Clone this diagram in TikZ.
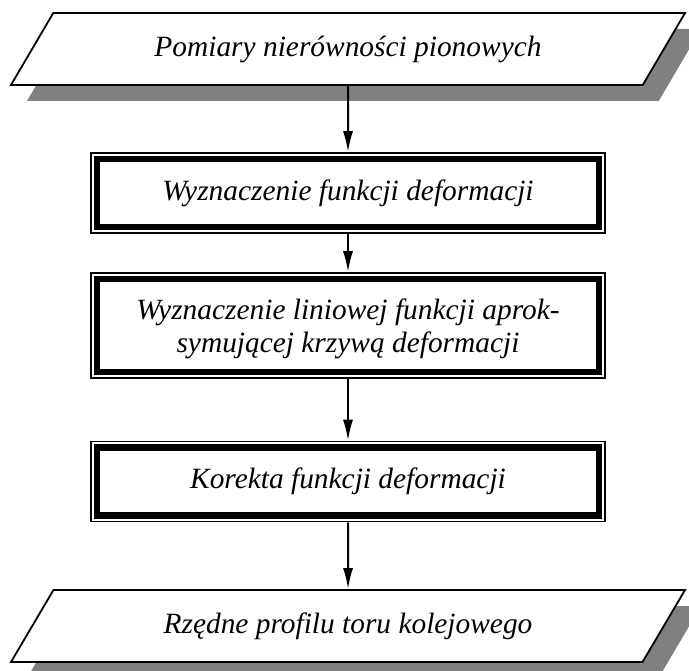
\documentclass[tikz,border=0pt]{standalone}
\usepackage{fontspec}
\setmainfont{Liberation Serif}
\usetikzlibrary{shapes.geometric,arrows.meta,shadows,positioning}

\tikzset{
  dane/.style={draw, trapezium, trapezium left angle=43.5, trapezium right angle=136.5,
    trapezium stretches body, minimum width=337pt, minimum height=36pt, line width=0.9pt,
    fill=white, drop shadow={opacity=1, fill=black!50, shadow xshift=8pt, shadow yshift=-8pt},
    font=\itshape\fontsize{14.7}{16.8}\selectfont},
  krok/.style={draw, fill=white, line width=3.25pt, minimum width=251pt, outer sep=3.4pt,
    align=center, preaction={draw, line width=6.8pt}, preaction={draw, white, line width=5.3pt},
    font=\itshape\fontsize{14.7}{16.8}\selectfont},
  strzalka/.style={->, line width=1pt, >={Latex[length=10.5pt,width=5pt]}}
}

\begin{document}
\begin{tikzpicture}
\useasboundingbox (0,0) rectangle (344.5pt,335pt);
\node[dane] (pom) at (174pt,310.5pt) {Pomiary nierówności pionowych};
\node[krok, minimum height=34pt] (wyz) at (174pt,238.5pt) {Wyznaczenie funkcji deformacji};
\node[krok, minimum height=46.5pt, text depth=-1.8pt] (lin) at (174pt,172.25pt) {Wyznaczenie liniowej funkcji aprok-\\symującej krzywą deformacji};
\node[krok, minimum height=34pt] (kor) at (174pt,94.25pt) {Korekta funkcji deformacji};
\node[dane] (rze) at (174pt,22pt) {Rzędne profilu toru kolejowego};
%==========

\draw[strzalka] (pom) -- (wyz);
\draw[strzalka] (wyz) -- (lin);
\draw[strzalka] (lin) -- (kor);
\draw[strzalka] (kor) -- (rze);
\end{tikzpicture}
\end{document}
